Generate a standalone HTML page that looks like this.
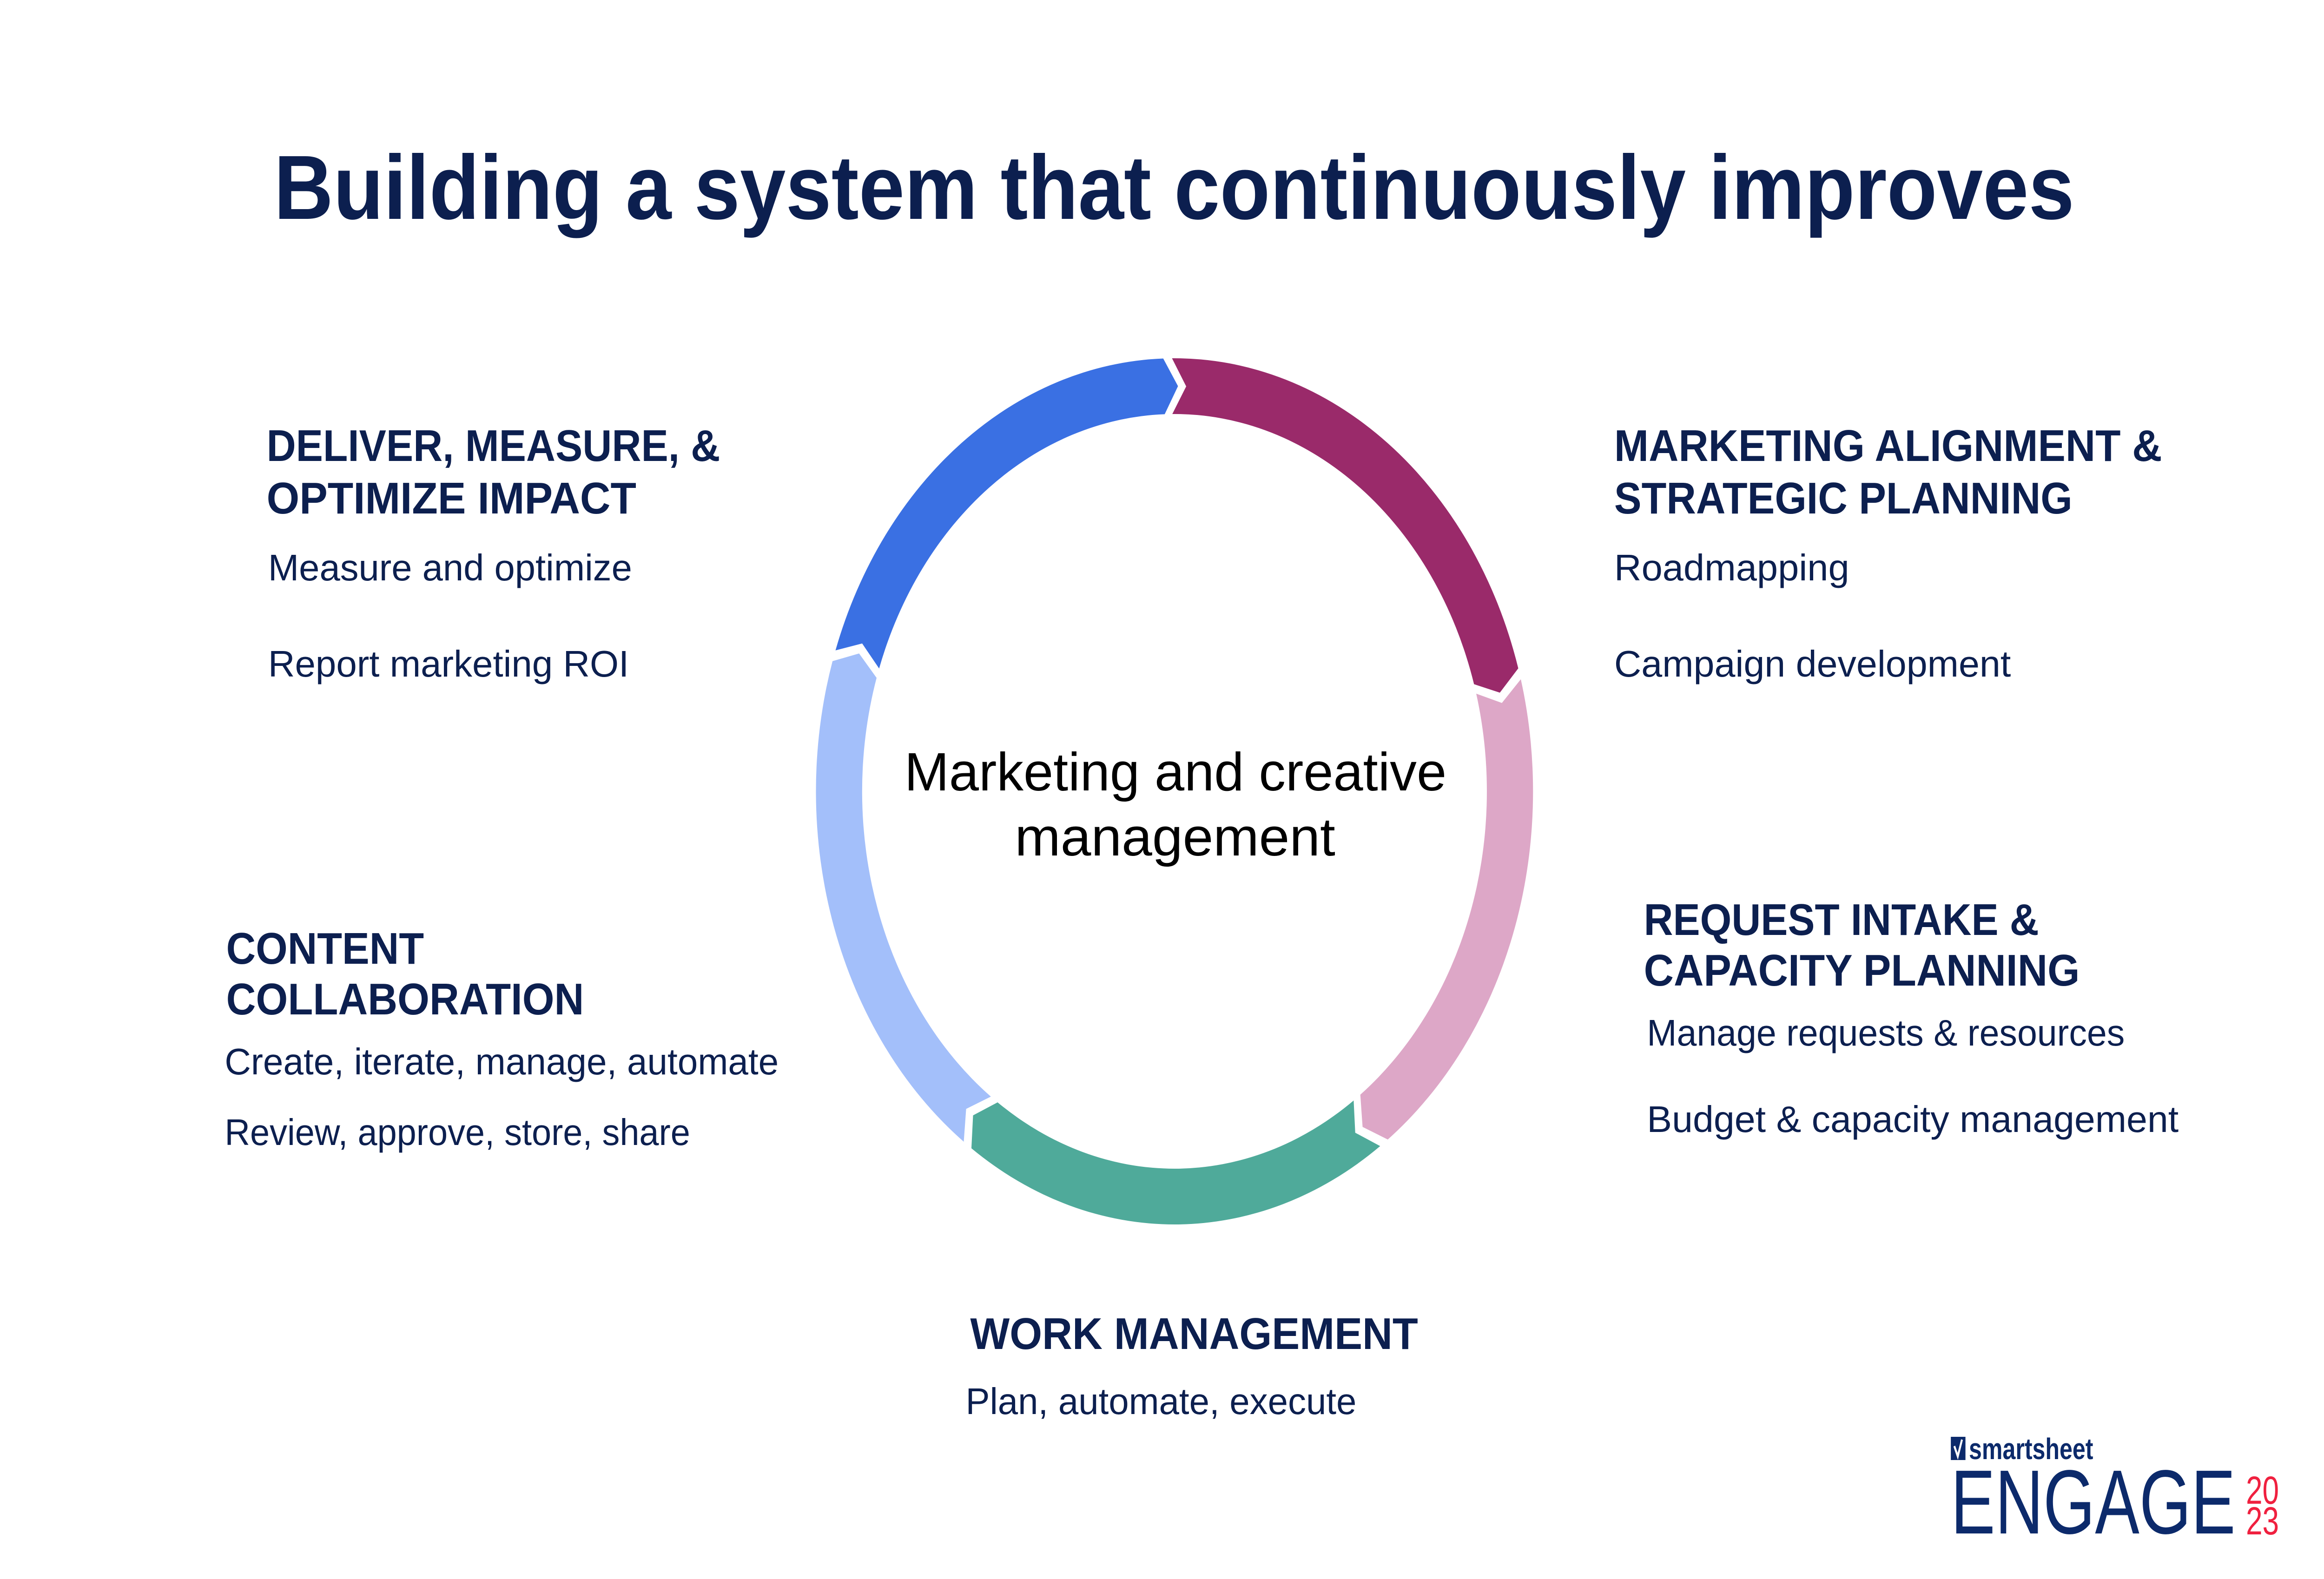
<!DOCTYPE html>
<html><head><meta charset="utf-8"><style>
html,body{margin:0;padding:0;background:#fff;overflow:hidden;width:100%;height:100%;}
svg{display:block;position:fixed;left:0;top:0;width:100vw;height:100vh;}
text{font-family:"Liberation Sans",sans-serif;fill:#0c1f4f;}
.h{font-weight:bold;font-size:96px;}
.b{font-size:80px;}
</style></head><body>
<svg id="s" viewBox="0 0 6041 3398" preserveAspectRatio="none" xmlns="http://www.w3.org/2000/svg">
<rect width="6041" height="3398" fill="#fff"/>
<g id="ring"></g>
<text x="712" y="471" font-size="196" font-weight="bold" textLength="4680" lengthAdjust="spacingAndGlyphs">Building a system that continuously improves</text>

<text class="h" x="693" y="992" textLength="1179" lengthAdjust="spacingAndGlyphs">DELIVER, MEASURE, &amp;</text>
<text class="h" x="693" y="1105" textLength="961" lengthAdjust="spacingAndGlyphs">OPTIMIZE IMPACT</text>
<text class="b" x="697" y="1249" textLength="946" lengthAdjust="spacingAndGlyphs">Measure and optimize</text>
<text class="b" x="697" y="1456" textLength="938" lengthAdjust="spacingAndGlyphs">Report marketing ROI</text>

<text class="h" x="4196" y="992" textLength="1424" lengthAdjust="spacingAndGlyphs">MARKETING ALIGNMENT &amp;</text>
<text class="h" x="4196" y="1105" textLength="1191" lengthAdjust="spacingAndGlyphs">STRATEGIC PLANNING</text>
<text class="b" x="4196" y="1249" textLength="611" lengthAdjust="spacingAndGlyphs">Roadmapping</text>
<text class="b" x="4196" y="1456" textLength="1031" lengthAdjust="spacingAndGlyphs">Campaign development</text>

<text x="2351" y="1701" font-size="116" style="fill:#000" textLength="1409" lengthAdjust="spacingAndGlyphs">Marketing and creative</text>
<text x="2638" y="1841" font-size="116" style="fill:#000" textLength="833" lengthAdjust="spacingAndGlyphs">management</text>

<text class="h" x="4273" y="2012" textLength="1027" lengthAdjust="spacingAndGlyphs">REQUEST INTAKE &amp;</text>
<text class="h" x="4273" y="2121" textLength="1133" lengthAdjust="spacingAndGlyphs">CAPACITY PLANNING</text>
<text class="b" x="4281" y="2250" textLength="1242" lengthAdjust="spacingAndGlyphs">Manage requests &amp; resources</text>
<text class="b" x="4281" y="2436" textLength="1382" lengthAdjust="spacingAndGlyphs">Budget &amp; capacity management</text>

<text class="h" x="588" y="2074" textLength="514" lengthAdjust="spacingAndGlyphs">CONTENT</text>
<text class="h" x="588" y="2183" textLength="930" lengthAdjust="spacingAndGlyphs">COLLABORATION</text>
<text class="b" x="584" y="2312" textLength="1440" lengthAdjust="spacingAndGlyphs">Create, iterate, manage, automate</text>
<text class="b" x="584" y="2464" textLength="1210" lengthAdjust="spacingAndGlyphs">Review, approve, store, share</text>

<text class="h" x="2522" y="2903" textLength="1164" lengthAdjust="spacingAndGlyphs">WORK MANAGEMENT</text>
<text class="b" x="2510" y="3043" textLength="1016" lengthAdjust="spacingAndGlyphs">Plan, automate, execute</text>

<rect x="5071" y="3092" width="38" height="50" fill="#0c2a6b"/>
<path d="M5080 3112 L5089 3134 L5100 3098" stroke="#fff" stroke-width="5" fill="none"/>
<text x="5118" y="3140" font-size="64" font-weight="bold" style="fill:#0c2a6b" textLength="323" lengthAdjust="spacingAndGlyphs">smartsheet</text>
<text x="5071" y="3300" font-size="196" style="fill:#0c2a6b" textLength="740" lengthAdjust="spacingAndGlyphs">ENGAGE</text>
<text x="5838" y="3236" font-size="84" style="fill:#f0203f" textLength="86" lengthAdjust="spacingAndGlyphs">20</text>
<text x="5838" y="3302" font-size="84" style="fill:#f0203f" textLength="86" lengthAdjust="spacingAndGlyphs">23</text>
</svg>
<script>
(function(){
var cx=3053,cy=1703,ro=932,ri=812,rm=872,d=2.4;
function p(r,a){a=a*Math.PI/180;return (cx+r*Math.sin(a)).toFixed(1)+" "+(cy-r*Math.cos(a)).toFixed(1);}
function seg(a0,a1,col){
 var large=(a1-a0)>180?1:0;
 var s="M"+p(ro,a0)+" A"+ro+" "+ro+" 0 "+large+" 1 "+p(ro,a1)+" L"+p(rm,a1+d)+" L"+p(ri,a1)+
 " A"+ri+" "+ri+" 0 "+large+" 0 "+p(ri,a0)+" L"+p(rm,a0+d)+" Z";
 return '<path d="'+s+'" fill="'+col+'"/>';
}
var segs=[[-71,-1.8,"#3a70e3"],[-0.4,73.5,"#9a2a6a"],[75,143.5,"#dda7c7"],[145,214.5,"#4faa9a"],[216,287.5,"#a3bffa"]];
var h="";segs.forEach(function(s){h+=seg(s[0],s[1],s[2]);});
document.getElementById("ring").innerHTML=h;
})();
</script>
</body></html>
